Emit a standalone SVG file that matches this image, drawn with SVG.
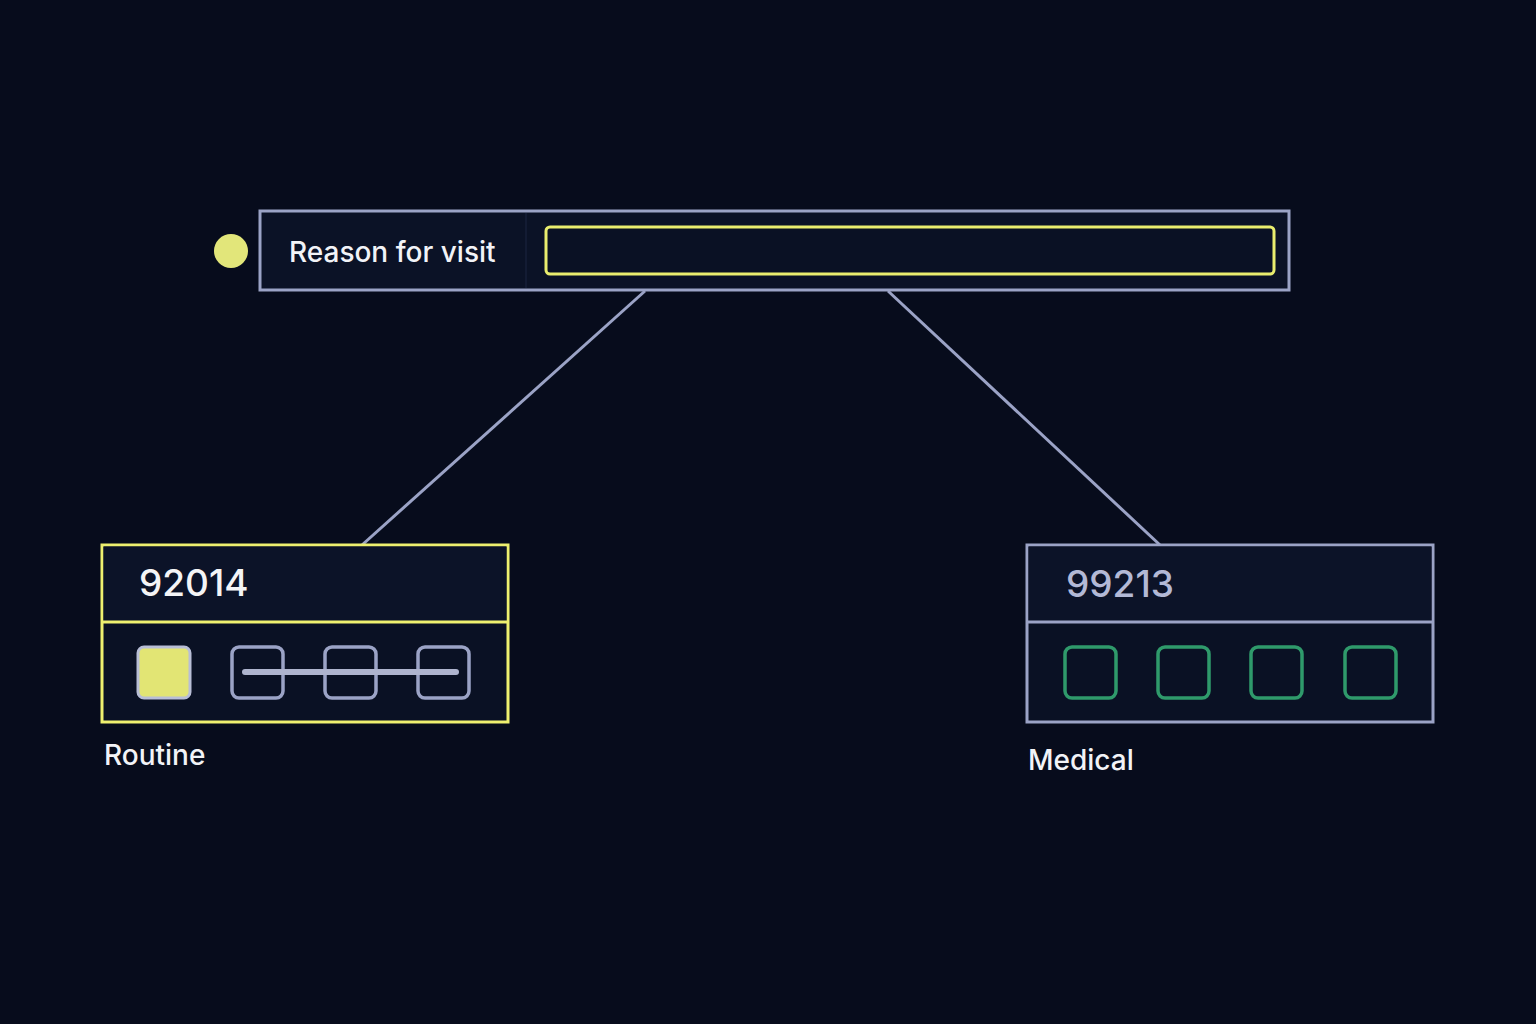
<svg xmlns="http://www.w3.org/2000/svg" width="1536" height="1024" viewBox="0 0 1536 1024">
<style>
text{font-family:Inter,"Noto Sans","Liberation Sans",sans-serif;font-weight:500}
.lbl{fill:#f2f3f7;font-size:28px}
.code{font-size:37px}
.sq{fill:none;stroke-width:3.5}
.grey{stroke:#9ba3c6}
.green{stroke:#2f9a6b}
</style>
<rect width="1536" height="1024" fill="#070c1c"/>
<g id="connectors" stroke="#9ba3c6" stroke-width="3" fill="none">
<line x1="645" y1="291" x2="362" y2="545"/>
<line x1="888" y1="291" x2="1160" y2="545"/>
</g>
<g id="reason">
<circle cx="231" cy="251" r="17" fill="#e2e67a"/>
<rect x="260" y="211" width="1029" height="79" fill="#0b1226" stroke="#9ba3c6" stroke-width="3"/>
<line x1="526" y1="213" x2="526" y2="288" stroke="#131b33" stroke-width="2"/>
<text x="289" y="262" class="lbl">Reason for visit</text>
<rect x="546" y="227" width="728" height="47" rx="4" fill="#0a1124" stroke="#e9ed6e" stroke-width="3"/>
</g>
<g id="routine">
<rect x="102" y="545" width="406" height="177" fill="#0a1124" stroke="#eef06f" stroke-width="3"/>
<rect x="103.5" y="546.5" width="403" height="75" fill="#0c1328"/>
<line x1="102" y1="622" x2="508" y2="622" stroke="#eef06f" stroke-width="3"/>
<text x="139" y="596" class="code" fill="#f4f4f6">92014</text>
<rect x="138" y="647" width="52" height="51" rx="6" fill="#e2e574" stroke="#b8bed6" stroke-width="3"/>
<rect x="232" y="647" width="51" height="51" rx="7" class="sq grey"/>
<rect x="325" y="647" width="51" height="51" rx="7" class="sq grey"/>
<rect x="418" y="647" width="51" height="51" rx="7" class="sq grey"/>
<line x1="245" y1="672" x2="456" y2="672" stroke="#aeb4ce" stroke-width="6" stroke-linecap="round"/>
<text x="104" y="765" class="lbl" font-size="27">Routine</text>
</g>
<g id="medical">
<rect x="1027" y="545" width="406" height="177" fill="#0a1124" stroke="#9ba3c6" stroke-width="3"/>
<rect x="1028.5" y="546.5" width="403" height="75" fill="#0c1328"/>
<line x1="1027" y1="622" x2="1433" y2="622" stroke="#9ba3c6" stroke-width="3"/>
<text x="1066" y="597" class="code" fill="#b3b9d6">99213</text>
<rect x="1065" y="647" width="51" height="51" rx="7" class="sq green"/>
<rect x="1158" y="647" width="51" height="51" rx="7" class="sq green"/>
<rect x="1251" y="647" width="51" height="51" rx="7" class="sq green"/>
<rect x="1345" y="647" width="51" height="51" rx="7" class="sq green"/>
<text x="1028" y="770" class="lbl">Medical</text>
</g>
</svg>
